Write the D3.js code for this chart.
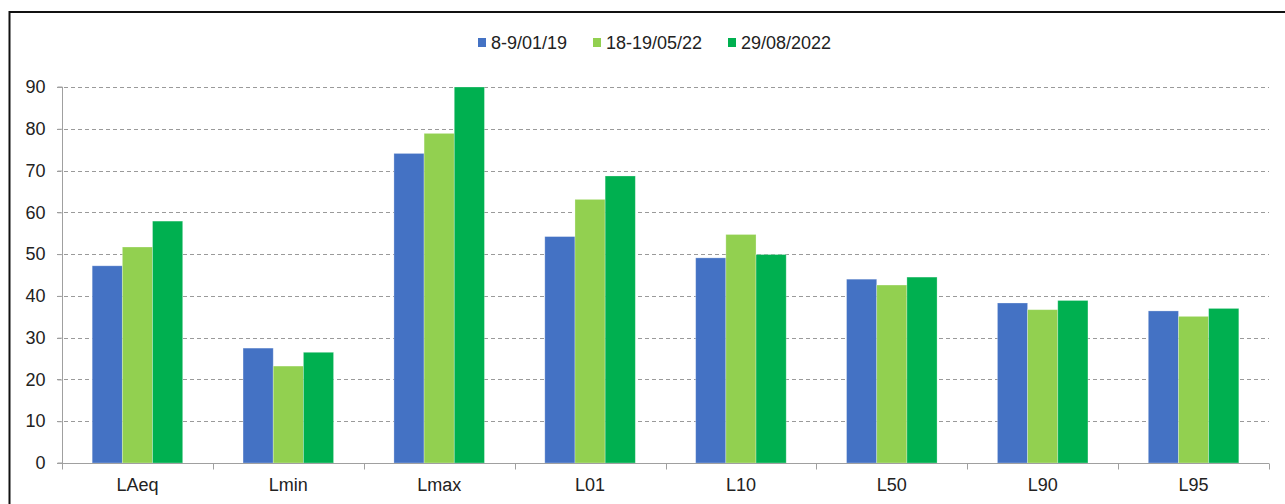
<!DOCTYPE html>
<html>
<head>
<meta charset="utf-8">
<script src="https://cdn.jsdelivr.net/npm/d3@7"></script>
<style>
  body { margin: 0; background: #fff; }
  text { font-family: "Liberation Sans", Arial, sans-serif; fill: #222; }
</style>
</head>
<body>
<svg id="chart" width="1285" height="504"></svg>
<script>
// noise levels per indicator, three campaigns
var categories = ['LAeq', 'Lmin', 'Lmax', 'L01', 'L10', 'L50', 'L90', 'L95'];
var seriesNames = ['8-9/01/19', '18-19/05/22', '29/08/2022'];
var jan19 = [47.2, 27.5, 74.1, 54.2, 49.1, 44.0, 38.3, 36.4];
var may22 = [51.7, 23.2, 78.9, 63.1, 54.7, 42.6, 36.7, 35.1];
var aug22 = [57.9, 26.5, 90.0, 68.7, 49.9, 44.5, 38.9, 37.0];
var yTicks = [0, 10, 20, 30, 40, 50, 60, 70, 80, 90];
var colors = ['#4472c4', '#92d050', '#00b050'];

var series = [jan19, may22, aug22];

var svg = d3.select('#chart');

// outer frame (runs off the right and bottom of the picture)
svg.append('rect')
  .attr('x', 9.5).attr('y', 12)
  .attr('width', 1300).attr('height', 520)
  .attr('fill', 'none')
  .attr('stroke', '#111')
  .attr('stroke-width', 2);

var margin = { left: 62, right: 1269, top: 87, bottom: 463 };

var x0 = d3.scaleBand()
  .domain(categories)
  .range([margin.left, margin.right])
  .paddingInner(0.4)
  .paddingOuter(0.2);

var x1 = d3.scaleBand()
  .domain(d3.range(series.length))
  .range([0, x0.bandwidth()]);

var y = d3.scaleLinear().domain([0, 90]).range([margin.bottom, margin.top]);

// dashed gridlines
svg.append('g')
  .selectAll('line')
  .data(yTicks.filter(function(d) { return d > 0; }))
  .enter().append('line')
  .attr('x1', margin.left - 5).attr('x2', margin.right)
  .attr('y1', function(d) { return Math.round(y(d)) + 0.5; })
  .attr('y2', function(d) { return Math.round(y(d)) + 0.5; })
  .attr('stroke', '#9a9a9a')
  .attr('stroke-dasharray', '4,3');

// bars
var groups = svg.append('g')
  .selectAll('g')
  .data(categories)
  .enter().append('g')
  .attr('transform', function(d) { return 'translate(' + x0(d) + ',0)'; });

groups.selectAll('rect')
  .data(function(d, i) { return series.map(function(s, k) { return { k: k, v: s[i] }; }); })
  .enter().append('rect')
  .attr('x', function(d) { return x1(d.k); })
  .attr('width', x1.bandwidth())
  .attr('y', function(d) { return y(d.v); })
  .attr('height', function(d) { return y(0) - y(d.v); })
  .attr('fill', function(d) { return colors[d.k]; })
  .attr('stroke', '#ffffff')
  .attr('stroke-opacity', 0.35)
  .attr('stroke-width', 0.8);

// y axis
var yAxis = svg.append('g')
  .attr('transform', 'translate(' + (margin.left + 0.5) + ',0)')
  .call(d3.axisLeft(y).tickValues(yTicks).tickSize(5).tickPadding(12));
yAxis.select('.domain').attr('stroke', '#a0a0a0').attr('d', 'M-5,' + margin.top + 'H0V' + margin.bottom + 'H-5');
yAxis.selectAll('.tick line').attr('stroke', '#a0a0a0');
yAxis.selectAll('.tick text').style('font-size', '18px').attr('fill', '#222');

// x axis with ticks between categories
var xAxis = svg.append('g').attr('transform', 'translate(0,' + (margin.bottom + 0.5) + ')');
xAxis.append('line')
  .attr('x1', margin.left - 5).attr('x2', margin.right)
  .attr('stroke', '#a0a0a0');
xAxis.selectAll('line.tk')
  .data(d3.range(categories.length + 1))
  .enter().append('line')
  .attr('class', 'tk')
  .attr('x1', function(i) { return Math.round(margin.left + i * x0.step()) + 0.5; })
  .attr('x2', function(i) { return Math.round(margin.left + i * x0.step()) + 0.5; })
  .attr('y1', 0).attr('y2', 6)
  .attr('stroke', '#a0a0a0');
xAxis.selectAll('text')
  .data(categories)
  .enter().append('text')
  .attr('x', function(d) { return x0(d) + x0.bandwidth() / 2; })
  .attr('y', 27)
  .attr('text-anchor', 'middle')
  .style('font-size', '18px')
  .text(function(d) { return d; });

// legend
var legendX = [478, 593, 728];
var legend = svg.append('g')
  .selectAll('g')
  .data(seriesNames)
  .enter().append('g')
  .attr('transform', function(d, i) { return 'translate(' + legendX[i] + ',38)'; });
legend.append('rect')
  .attr('width', 8).attr('height', 9)
  .attr('fill', function(d, i) { return colors[i]; });
legend.append('text')
  .attr('x', 13).attr('y', 11)
  .style('font-size', '18px')
  .text(function(d) { return d; });
</script>
</body>
</html>
